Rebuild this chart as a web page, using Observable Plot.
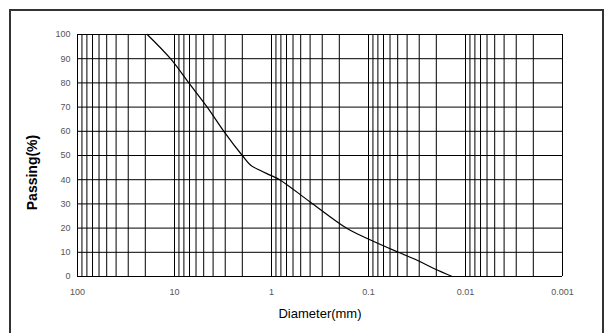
<!DOCTYPE html>
<html>
<head>
<meta charset="utf-8">
<script src="https://cdn.jsdelivr.net/npm/d3@7"></script>
<script src="https://cdn.jsdelivr.net/npm/@observablehq/plot@0.6"></script>
<style>
  html, body { margin: 0; padding: 0; background: #fff; }
  #wrap { position: relative; width: 605px; height: 333px; overflow: hidden; }
  #frame { position: absolute; left: 9px; top: 9px; width: 595px; height: 340px; border: 2px solid #333; box-sizing: border-box; }
  #chart { position: absolute; left: 0; top: 0; }
</style>
</head>
<body>
<div id="wrap"><div id="frame"></div><div id="chart"></div></div>
<script>
// Particle size distribution
const diameters = [19.1, 11.0, 7.12, 4.60, 3.10, 2.00, 1.64, 1.30, 1.02, 0.81, 0.40, 0.166, 0.103, 0.0506, 0.0315, 0.0212, 0.0137];
const passing   = [100, 90, 80, 70, 60, 50, 46, 43.8, 41.8, 39.8, 30.8, 19.8, 15.7, 10.2, 6.7, 3.3, 0];
const xTickLabels = [100, 10, 1, 0.1, 0.01, 0.001];
const yTicks = [0, 10, 20, 30, 40, 50, 60, 70, 80, 90, 100];
const gridMultiples = [1, 2, 3, 4, 5, 6, 7, 8, 9];
const decades = [0.001, 0.01, 0.1, 1, 10];

const data = diameters.map((d, i) => ({d, p: passing[i]}));
const gridX = decades.flatMap(e => gridMultiples.map(m => +(m * e).toPrecision(6))).concat([100]);

const font = "'Liberation Sans', Arial, sans-serif";

const chart = Plot.plot({
  width: 605,
  height: 333,
  marginLeft: 77,
  marginRight: 43,
  marginTop: 34,
  marginBottom: 57,
  style: {fontFamily: font, background: "transparent", overflow: "visible"},
  x: {type: "log", domain: [100, 0.001]},
  y: {domain: [0, 100]},
  marks: [
    Plot.ruleX(gridX, {x: d => d, stroke: "#000", strokeWidth: 1}),
    Plot.ruleY(yTicks, {y: d => d, stroke: "#000", strokeWidth: 1}),
    Plot.axisX(xTickLabels, {tickSize: 0, tickPadding: 12, fontSize: 9, fill: "#555", label: null, tickFormat: d => String(d)}),
    Plot.axisY(yTicks, {tickSize: 0, tickPadding: 7, fontSize: 9, fill: "#555", label: null}),
    Plot.line(data, {x: "d", y: "p", stroke: "#000", strokeWidth: 1.2, curve: "catmull-rom"}),
    Plot.text(["Diameter(mm)"], {frameAnchor: "bottom", dy: 41, fontSize: 13, fill: "#000", letterSpacing: "-0.3px"}),
    Plot.text(["Passing(%)"], {frameAnchor: "left", textAnchor: "middle", dx: -45, dy: 17, rotate: -90, fontSize: 14, fontWeight: "bold", fill: "#000"})
  ]
});
document.getElementById("chart").appendChild(chart);
</script>
</body>
</html>
